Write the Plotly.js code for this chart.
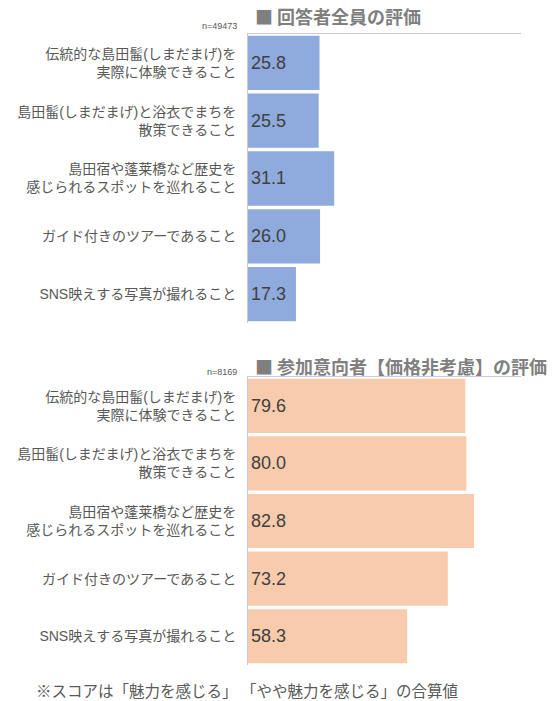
<!DOCTYPE html>
<html><head><meta charset="utf-8">
<script src="https://cdn.plot.ly/plotly-3.0.1.min.js"></script>
<style>html,body{margin:0;padding:0;background:#fff}</style>
</head><body>
<div id="chart" style="width:553px;height:701px"></div>
<script>
const categories = [
  "伝統的な島田髷(しまだまげ)を<br>実際に体験できること",
  "島田髷(しまだまげ)と浴衣でまちを<br>散策できること",
  "島田宿や蓬莱橋など歴史を<br>感じられるスポットを巡れること",
  "ガイド付きのツアーであること",
  "SNS映えする写真が撮れること"
];
const allRespondents = [25.8, 25.5, 31.1, 26.0, 17.3];
const intendedParticipants = [79.6, 80.0, 82.8, 73.2, 58.3];
const titleTop = "■ 回答者全員の評価";
const titleBottom = "■ 参加意向者【価格非考慮】の評価";
const nTop = "n=49473";
const nBottom = "n=8169";
const footnote = "※スコアは「魅力を感じる」 「やや魅力を感じる」の合算値";

const FONT = '"Liberation Sans", "Noto Sans CJK JP", sans-serif';
const CJK = '"Noto Sans CJK JP", sans-serif';
const lineCol = '#c8c8dc';

function barTrace(vals, color, xa, ya) {
  return {
    type: 'bar', orientation: 'h',
    x: vals, y: categories, xaxis: xa, yaxis: ya,
    marker: {color: color, line: {width: 0}},
    text: vals.map(v => v.toFixed(1)),
    textposition: 'inside', insidetextanchor: 'start',
    insidetextfont: {size: 18, color: '#404040', family: FONT},
    hoverinfo: 'none', cliponaxis: false
  };
}

const data = [
  barTrace(allRespondents, '#8faadc', 'x', 'y'),
  barTrace(intendedParticipants, '#f8cbad', 'x2', 'y2')
];

const xCommon = {showgrid: false, zeroline: false, showticklabels: false, ticks: '',
  showline: true, linecolor: lineCol, linewidth: 1, side: 'top', fixedrange: true};
const yCommon = {showgrid: false, zeroline: false, autorange: 'reversed', ticks: '',
  showline: true, linecolor: lineCol, linewidth: 1, ticklabelstandoff: 8,
  tickfont: {size: 14, color: '#595959', family: FONT}, fixedrange: true};

const layout = {
  width: 553, height: 701,
  margin: {l: 248, r: 32, t: 34, b: 36},
  paper_bgcolor: '#ffffff', plot_bgcolor: '#ffffff',
  showlegend: false, bargap: 0.06,
  font: {family: FONT},
  xaxis: Object.assign({}, xCommon, {range: [0, 98.5], anchor: 'y', domain: [0, 1]}),
  yaxis: Object.assign({}, yCommon, {domain: [0.542, 1], anchor: 'x'}),
  xaxis2: Object.assign({}, xCommon, {range: [0, 100], anchor: 'y2', domain: [0, 1]}),
  yaxis2: Object.assign({}, yCommon, {domain: [0, 0.4564], anchor: 'x2'}),
  annotations: [
    {text: '<b>' + titleTop + '</b>', xref: 'paper', yref: 'paper', x: 0.018, y: 1.0285,
     xanchor: 'left', yanchor: 'middle', showarrow: false, font: {size: 18, color: '#7f7f7f', family: CJK}},
    {text: nTop, xref: 'paper', yref: 'paper', x: -0.033, y: 1.0127,
     xanchor: 'right', yanchor: 'middle', showarrow: false, font: {size: 9, color: '#595959', family: FONT}},
    {text: '<b>' + titleBottom + '</b>', xref: 'paper', yref: 'paper', x: 0.018, y: 0.4739,
     xanchor: 'left', yanchor: 'middle', showarrow: false, font: {size: 18, color: '#7f7f7f', family: CJK}},
    {text: nBottom, xref: 'paper', yref: 'paper', x: -0.033, y: 0.4643,
     xanchor: 'right', yanchor: 'middle', showarrow: false, font: {size: 9, color: '#595959', family: FONT}},
    {text: footnote, xref: 'paper', yref: 'paper', x: -0.784, y: -0.0396,
     xanchor: 'left', yanchor: 'middle', showarrow: false, font: {size: 15.5, color: '#595959', family: CJK}}
  ]
};

Plotly.newPlot('chart', data, layout, {displayModeBar: false, staticPlot: true});
</script>
</body></html>
